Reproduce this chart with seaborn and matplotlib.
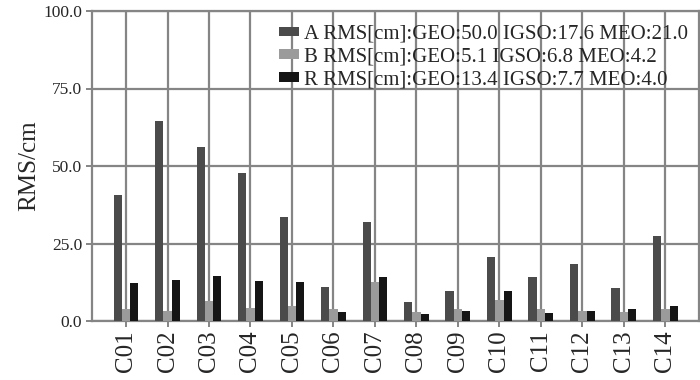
import numpy as np
import pandas as pd
import matplotlib
matplotlib.use("Agg")
import matplotlib.pyplot as plt
import seaborn as sns

categories = ["C01", "C02", "C03", "C04", "C05", "C06", "C07",
              "C08", "C09", "C10", "C11", "C12", "C13", "C14"]
series_a = [40.6, 64.6, 56.2, 47.7, 33.6, 10.9, 32.0, 6.0, 9.7, 20.5, 14.1, 18.3, 10.8, 27.5]
series_b = [3.8, 3.2, 6.5, 4.3, 5.0, 4.0, 12.5, 2.8, 3.9, 6.8, 3.8, 3.2, 3.0, 3.9]
series_r = [12.2, 13.1, 14.4, 13.0, 12.5, 2.8, 14.1, 2.2, 3.2, 9.7, 2.7, 3.3, 4.0, 4.7]
series_names = ["A RMS[cm]:GEO:50.0 IGSO:17.6 MEO:21.0",
                "B RMS[cm]:GEO:5.1 IGSO:6.8 MEO:4.2",
                "R RMS[cm]:GEO:13.4 IGSO:7.7 MEO:4.0"]
y_ticks = [0, 25, 50, 75, 100]
colors = ["#4b4b4b", "#9b9b9b", "#151515"]

df = pd.DataFrame({
    "sat": categories * 3,
    "rms": series_a + series_b + series_r,
    "series": [series_names[0]] * len(categories)
              + [series_names[1]] * len(categories)
              + [series_names[2]] * len(categories),
})

sns.set_style("white")
plt.rcParams["font.family"] = ["Liberation Serif", "DejaVu Serif"]

fig = plt.figure(figsize=(7.0, 3.8), dpi=100)
ax = fig.add_axes([92 / 700, 1 - 321 / 380, (699 - 92) / 700, (321 - 11) / 380])

sns.barplot(data=df, x="sat", y="rms", hue="series", palette=colors,
            width=0.6, order=categories, hue_order=series_names,
            saturation=1, ax=ax, linewidth=0, zorder=3)

grid_color = "#858585"
ax.set_ylim(0, 100)
ax.set_xlim(-0.82, 13.81)
ax.set_yticks(y_ticks)
ax.set_yticklabels([f"{v:.1f}" for v in y_ticks], fontsize=12.5)
ax.set_xticks(range(len(categories)))
ax.set_xticklabels(categories, rotation=90, fontsize=18)
ax.set_xlabel("")
ax.set_ylabel("RMS/cm", fontsize=18, labelpad=2)

ax.grid(True, axis="both", color=grid_color, linewidth=1.6, zorder=0)
ax.set_axisbelow(True)
for s in ax.spines.values():
    s.set_visible(True)
    s.set_color(grid_color)
    s.set_linewidth(1.6)
ax.tick_params(axis="both", which="both", direction="out", length=4,
               width=1.4, color=grid_color, pad=3, bottom=True, left=True)

leg = ax.legend(loc="upper right", bbox_to_anchor=(0.995, 0.982), frameon=False,
                fontsize=15, labelspacing=0.18, handlelength=1.0,
                handleheight=0.35, handletextpad=0.2, borderaxespad=0.2,
                borderpad=0.2)

fig.savefig("out.png", dpi=100)
